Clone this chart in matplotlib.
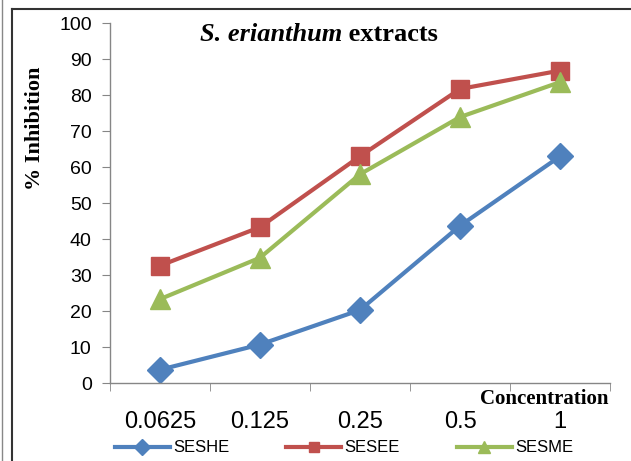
import numpy as np
import matplotlib.pyplot as plt
from matplotlib.lines import Line2D

# Concentrations and % inhibition
concentrations = ['0.0625', '0.125', '0.25', '0.5', '1']
seshe = [3.7, 10.7, 20.3, 43.7, 63.0]
sesee = [32.6, 43.3, 63.0, 81.7, 86.8]
sesme = [23.3, 34.8, 58.0, 73.9, 83.6]

series = [('SESHE', seshe, '#4F81BD', 'D', 13),
          ('SESEE', sesee, '#C0504D', 's', 13),
          ('SESME', sesme, '#9BBB59', '^', 14)]

fig = plt.figure(figsize=(6.31, 4.61), dpi=100)
ax = fig.add_axes([0.174, 0.169, 0.793, 0.781])

x = np.arange(len(concentrations))
for name, vals, col, mk, ms in series:
    ax.plot(x, vals, color=col, lw=3, marker=mk, ms=ms, label=name)

ax.set_xlim(-0.5, len(concentrations) - 0.5)
ax.set_ylim(0, 100)
ax.set_yticks(np.arange(0, 101, 10))
ax.set_xticks(x)
ax.set_xticklabels(concentrations, fontsize=17, family='Liberation Sans')
ax.set_xticks(np.arange(-0.5, len(concentrations), 1), minor=True)
ax.tick_params(axis='x', which='major', length=0, pad=20)
ax.tick_params(axis='x', which='minor', length=6, color='#868686', direction='out')
ax.tick_params(axis='y', length=6, color='#868686', labelsize=14, pad=7)
for lab in ax.get_yticklabels():
    lab.set_family('Liberation Sans')

for s in ['top', 'right']:
    ax.spines[s].set_visible(False)
for s in ['left', 'bottom']:
    ax.spines[s].set_color('#868686')
    ax.spines[s].set_linewidth(1)

ax.set_ylabel('% Inhibition', family='Liberation Serif', fontweight='bold', fontsize=16)
ax.yaxis.set_label_coords(-0.13, 0.708)

# title: italic species name followed by upright word
t1 = ax.text(0.18, 0.967, 'S. erianthum', transform=ax.transAxes, ha='left', va='center',
             family='Liberation Serif', fontweight='bold', style='italic', fontsize=19)
ax.annotate(' extracts', xy=(1, 0), xycoords=t1, ha='left', va='bottom',
            family='Liberation Serif', fontweight='bold', fontsize=19)

ax.text(0.996, -0.058, 'Concentration', transform=ax.transAxes, ha='right', va='baseline',
        family='Liberation Serif', fontweight='bold', fontsize=15)

ax.legend(loc='center', bbox_to_anchor=(0.468, -0.18), ncol=3, frameon=False,
          handlelength=3.3, columnspacing=3.4, handletextpad=0.2, markerscale=0.6,
          prop={'family': 'Liberation Sans', 'size': 12})

# outer frame of the original screenshot
fig.add_artist(Line2D([12 / 631, 12 / 631], [0, 1 - 9 / 461], color='#333333', lw=1.5))
fig.add_artist(Line2D([12 / 631, 1], [1 - 9 / 461, 1 - 9 / 461], color='#333333', lw=1.5))
fig.add_artist(Line2D([2 / 631, 2 / 631], [0, 1], color='#888888', lw=1))

fig.savefig('out.png', dpi=100)
